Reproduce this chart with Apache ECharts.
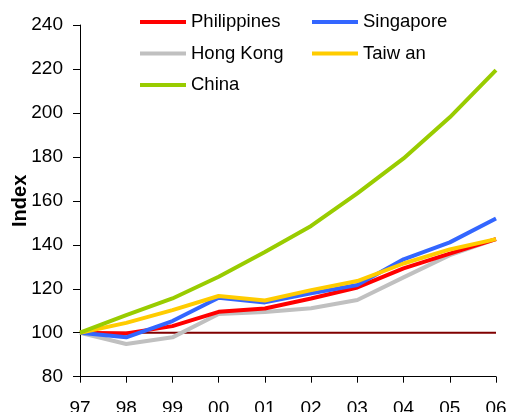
<!DOCTYPE html>
<html>
<head>
<meta charset="utf-8">
<script src="https://cdn.jsdelivr.net/npm/echarts@6/dist/echarts.min.js"></script>
<style>
html,body{margin:0;padding:0;background:#fff;}
#chart{width:507px;height:412px;}
</style>
</head>
<body>
<div id="chart"></div>
<script>
var categories = ['97','98','99','00','01','02','03','04','05','06'];
var yTicks = [80,100,120,140,160,180,200,220,240];
var philippines = [100, 99.7, 103, 109.5, 111, 115.6, 120.6, 129.3, 136, 142.6];
var singapore   = [100, 97.9, 105.3, 115.9, 113.8, 117.9, 121.7, 133.4, 141.1, 152];
var hongKong    = [100, 94.9, 97.9, 108.5, 109.4, 111.1, 114.9, 125.2, 135.3, 142.6];
var taiwan      = [100, 104.5, 110.3, 116.7, 114.7, 119.4, 123.5, 131.5, 137.9, 142.6];
var china       = [100, 108, 115.6, 125.5, 136.7, 148.6, 163.4, 179.3, 198, 219.5];
var baseline    = [100, 100, 100, 100, 100, 100, 100, 100, 100, 100];
var seriesNames = ['Philippines','Singapore','Hong Kong','Taiw an','China'];

var FONT = "'Liberation Sans', Arial, sans-serif";
var chart = echarts.init(document.getElementById('chart'), null, {renderer:'canvas'});

function lineSeries(name, data, color, width, z) {
  return {
    name: name, type: 'line', data: data, symbol: 'none', z: z,
    lineStyle: {color: color, width: width}, itemStyle: {color: color},
    emphasis: {disabled: true}, animation: false
  };
}

var legendCommon = {
  orient: 'vertical', icon: 'rect', itemWidth: 46, itemHeight: 4, itemGap: 11.5,
  padding: 0,
  textStyle: {fontFamily: FONT, fontSize: 18.5, color: '#000', lineHeight: 20},
  selectedMode: false
};

chart.setOption({
  animation: false,
  backgroundColor: '#fff',
  grid: {left: 80, right: 11, top: 25, bottom: 35.3, containLabel: false, outerBoundsMode: 'none'},
  legend: [
    Object.assign({}, legendCommon, {left: 140, top: 12, data: [seriesNames[0], seriesNames[2], seriesNames[4]]}),
    Object.assign({}, legendCommon, {left: 312, top: 12, data: [seriesNames[1], seriesNames[3]]})
  ],
  xAxis: {
    type: 'category', data: categories, boundaryGap: false,
    axisLine: {lineStyle: {color: '#000', width: 1}},
    axisTick: {show: true, length: 6, alignWithLabel: true, lineStyle: {color: '#000'}},
    axisLabel: {fontFamily: FONT, fontSize: 19, color: '#000', margin: 23, interval: 0},
    splitLine: {show: false}
  },
  yAxis: {
    type: 'value', min: yTicks[0], max: yTicks[yTicks.length-1], interval: 20,
    name: 'Index', nameLocation: 'middle', nameGap: 50, nameRotate: 90, nameMoveOverlap: false,
    nameTextStyle: {fontFamily: FONT, fontSize: 20, fontWeight: 'bold', color: '#000'},
    axisLine: {show: true, lineStyle: {color: '#000', width: 1}},
    axisTick: {show: true, length: 7, lineStyle: {color: '#000'}},
    axisLabel: {fontFamily: FONT, fontSize: 19, color: '#000', margin: 17},
    splitLine: {show: false}
  },
  series: [
    lineSeries('base', baseline, '#800000', 2, 1),
    lineSeries(seriesNames[2], hongKong, '#C0C0C0', 4, 2),
    lineSeries(seriesNames[0], philippines, '#FF0000', 4, 3),
    lineSeries(seriesNames[1], singapore, '#3366FF', 4, 4),
    lineSeries(seriesNames[3], taiwan, '#FFCC00', 4, 5),
    lineSeries(seriesNames[4], china, '#99CC00', 4, 6)
  ]
});
</script>
</body>
</html>
